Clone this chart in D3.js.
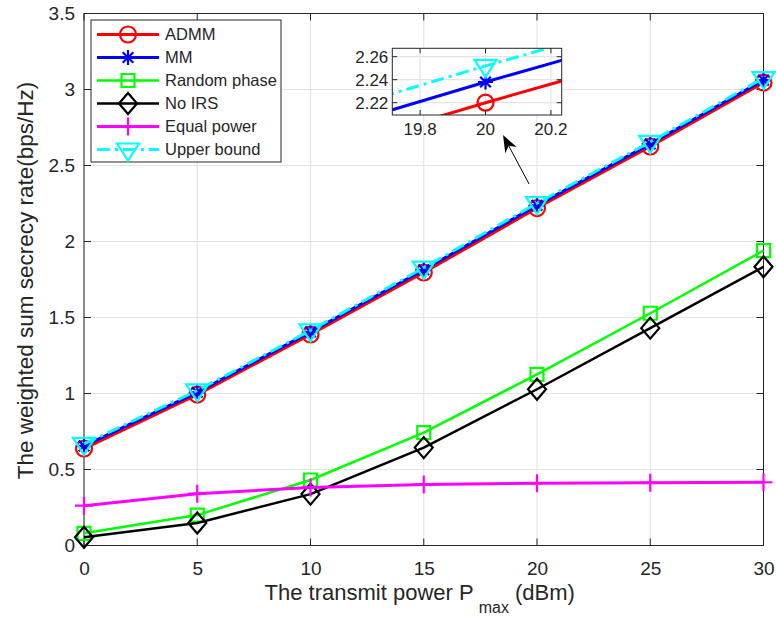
<!DOCTYPE html>
<html>
<head>
<meta charset="utf-8">
<script src="https://cdn.jsdelivr.net/npm/d3@7"></script>
<style>
  html, body { margin: 0; padding: 0; background: #fff; }
  svg { display: block; font-family: "Liberation Sans", Arial, Helvetica, sans-serif; }
</style>
</head>
<body>
<svg id="chart" width="776" height="618"></svg>
<script>
// ---- data ----
const powerDbm = [0, 5, 10, 15, 20, 25, 30];
const admm        = [0.638, 0.993, 1.388, 1.796, 2.220, 2.625, 3.045];
const mm          = [0.655, 1.008, 1.405, 1.814, 2.238, 2.642, 3.062];
const randomPhase = [0.080, 0.200, 0.431, 0.742, 1.126, 1.528, 1.940];
const noIrs       = [0.054, 0.148, 0.338, 0.644, 1.028, 1.430, 1.834];
const equalPower  = [0.262, 0.341, 0.382, 0.401, 0.410, 0.413, 0.416];
const upperBound  = [0.668, 1.020, 1.415, 1.828, 2.252, 2.655, 3.075];

const xTicks = [0, 5, 10, 15, 20, 25, 30];
const yTicks = [0, 0.5, 1, 1.5, 2, 2.5, 3, 3.5];
const insetXTicks = [19.8, 20, 20.2];
const insetYTicks = [2.22, 2.24, 2.26];

const seriesNames = ["ADMM", "MM", "Random phase", "No IRS", "Equal power", "Upper bound"];
const seriesValues = [admm, mm, randomPhase, noIrs, equalPower, upperBound];

// zoom window and annotation arrow, both in data units
const insetXDomain = [19.715, 20.233];
const insetYDomain = [2.2093, 2.2673];
const arrowTail = [19.65, 2.378];
const arrowTip  = [18.50, 2.700];

// ---- styles ----
const styles = [
  { color: "#ff0000", width: 3,   dash: null,          marker: "circle" },
  { color: "#0000ff", width: 3,   dash: null,          marker: "asterisk" },
  { color: "#00ff00", width: 2.5, dash: null,          marker: "square" },
  { color: "#000000", width: 2.5, dash: null,          marker: "diamond" },
  { color: "#ff00ff", width: 3,   dash: null,          marker: "plus" },
  { color: "#00ffff", width: 3,   dash: "13,5,3,5",    marker: "triangleDown" }
];

const textColor = "#262626";
const axisColor = "#262626";
const gridColor = "#e4e4e4";

const svg = d3.select("#chart");
svg.append("rect").attr("width", 776).attr("height", 618).attr("fill", "#fff");
const defs = svg.append("defs");

// main axes area
const main = { left: 84, right: 763.5, top: 13.5, bottom: 545.5 };
const x = d3.scaleLinear().domain([0, 30]).range([main.left, main.right]);
const y = d3.scaleLinear().domain([0, 3.5]).range([main.bottom, main.top]);

// marker path generator, centred on (0,0)
function markerPath(type) {
  const p = d3.path();
  switch (type) {
    case "circle":
      p.moveTo(8, 0); p.arc(0, 0, 8, 0, 2 * Math.PI); break;
    case "square":
      p.rect(-6.5, -6.5, 13, 13); break;
    case "diamond":
      p.moveTo(0, -10.5); p.lineTo(9, 0); p.lineTo(0, 10.5); p.lineTo(-9, 0); p.closePath(); break;
    case "plus":
      p.moveTo(-9, 0); p.lineTo(9, 0); p.moveTo(0, -9); p.lineTo(0, 9); break;
    case "asterisk": {
      const r = 7.5, d = r * Math.SQRT1_2;
      p.moveTo(-r, 0); p.lineTo(r, 0); p.moveTo(0, -r); p.lineTo(0, r);
      p.moveTo(-d, -d); p.lineTo(d, d); p.moveTo(-d, d); p.lineTo(d, -d); break;
    }
    case "triangleDown":
      p.moveTo(-11, -6); p.lineTo(11, -6); p.lineTo(0, 11); p.closePath(); break;
  }
  return p.toString();
}

function drawSeries(g, xs, ys) {
  seriesValues.forEach((vals, i) => {
    const st = styles[i];
    const pts = powerDbm.map((d, j) => [xs(d), ys(vals[j])]);
    g.append("path")
      .attr("d", d3.line()(pts))
      .attr("fill", "none")
      .attr("stroke", st.color)
      .attr("stroke-width", st.width)
      .attr("stroke-linejoin", "round")
      .attr("stroke-dasharray", st.dash);
    g.append("g").selectAll("path")
      .data(pts)
      .join("path")
      .attr("transform", d => `translate(${d[0]},${d[1]})`)
      .attr("d", markerPath(st.marker))
      .attr("fill", "none")
      .attr("stroke", st.color)
      .attr("stroke-width", 2.2);
  });
}

function drawFrame(g, xs, ys, xt, yt, tickLen) {
  const [x0, x1] = xs.range();
  const [y0, y1] = ys.range();
  g.append("rect")
    .attr("x", x0).attr("y", y1).attr("width", x1 - x0).attr("height", y0 - y1)
    .attr("fill", "none").attr("stroke", axisColor).attr("stroke-width", 1);
  xt.forEach(t => {
    const px = xs(t);
    g.append("line").attr("x1", px).attr("x2", px).attr("y1", y0).attr("y2", y0 - tickLen)
      .attr("stroke", axisColor);
    g.append("line").attr("x1", px).attr("x2", px).attr("y1", y1).attr("y2", y1 + tickLen)
      .attr("stroke", axisColor);
  });
  yt.forEach(t => {
    const py = ys(t);
    g.append("line").attr("x1", x0).attr("x2", x0 + tickLen).attr("y1", py).attr("y2", py)
      .attr("stroke", axisColor);
    g.append("line").attr("x1", x1).attr("x2", x1 - tickLen).attr("y1", py).attr("y2", py)
      .attr("stroke", axisColor);
  });
}

function drawGrid(g, xs, ys, xt, yt) {
  const [x0, x1] = xs.range();
  const [y0, y1] = ys.range();
  g.selectAll("line.gx").data(xt).join("line").attr("class", "gx")
    .attr("x1", d => xs(d)).attr("x2", d => xs(d)).attr("y1", y0).attr("y2", y1)
    .attr("stroke", gridColor).attr("stroke-width", 1.2);
  g.selectAll("line.gy").data(yt).join("line").attr("class", "gy")
    .attr("x1", x0).attr("x2", x1).attr("y1", d => ys(d)).attr("y2", d => ys(d))
    .attr("stroke", gridColor).attr("stroke-width", 1.2);
}

// ---- main plot ----
const gMain = svg.append("g");
drawGrid(gMain, x, y, xTicks, yTicks);
drawFrame(gMain, x, y, xTicks, yTicks, 7);

// tick labels
const xAxis = d3.axisBottom(x).tickValues(xTicks).tickSize(0).tickPadding(0).tickFormat(d3.format("d"));
const gx = svg.append("g").attr("transform", `translate(0,${main.bottom + 16})`).call(xAxis);
gx.select(".domain").remove();
gx.selectAll("text").attr("dy", "0.71em").attr("font-size", 19).attr("fill", textColor)
  .attr("font-family", "Liberation Sans, Arial, sans-serif");

const yAxis = d3.axisLeft(y).tickValues(yTicks).tickSize(0).tickPadding(0).tickFormat(d => String(d));
const gy = svg.append("g").attr("transform", `translate(${main.left - 9},0)`).call(yAxis);
gy.select(".domain").remove();
gy.selectAll("text").attr("font-size", 19).attr("fill", textColor)
  .attr("font-family", "Liberation Sans, Arial, sans-serif");

// data
drawSeries(svg.append("g"), x, y);

// axis titles
const xLabel = svg.append("text")
  .attr("x", (main.left + main.right) / 2 - 4)
  .attr("y", 600)
  .attr("text-anchor", "middle")
  .attr("font-size", 22)
  .attr("fill", textColor);
xLabel.append("tspan").text("The transmit power P");
xLabel.append("tspan").attr("dx", 5).attr("dy", 13).attr("font-size", 16).text("max");
xLabel.append("tspan").attr("dy", -13).text("\u00a0(dBm)");

svg.append("text")
  .attr("transform", `translate(33,${(main.top + main.bottom) / 2 + 1}) rotate(-90)`)
  .attr("text-anchor", "middle")
  .attr("font-size", 22.5)
  .attr("fill", textColor)
  .text("The weighted sum secrecy rate(bps/Hz)");

// ---- legend ----
const leg = { x: 91, y: 20, w: 190, h: 142, row0: 34.5, step: 23 };
const gLeg = svg.append("g");
gLeg.append("rect").attr("x", leg.x).attr("y", leg.y).attr("width", leg.w).attr("height", leg.h)
  .attr("fill", "#fff").attr("stroke", axisColor).attr("stroke-width", 1);
seriesNames.forEach((name, i) => {
  const st = styles[i];
  const cy = leg.row0 + i * leg.step;
  gLeg.append("line").attr("x1", 97).attr("x2", 159).attr("y1", cy).attr("y2", cy)
    .attr("stroke", st.color).attr("stroke-width", st.width).attr("stroke-dasharray", st.dash);
  gLeg.append("path").attr("transform", `translate(128,${cy})`).attr("d", markerPath(st.marker))
    .attr("fill", "none").attr("stroke", st.color).attr("stroke-width", 2.2);
  gLeg.append("text").attr("x", 165).attr("y", cy).attr("dy", "0.35em")
    .attr("font-size", 16.5).attr("fill", textColor).text(name);
});

// ---- zoomed inset ----
const ins = { left: 392.3, right: 561.7, top: 48.3, bottom: 115 };
const xi = d3.scaleLinear().domain(insetXDomain).range([ins.left, ins.right]);
const yi = d3.scaleLinear().domain(insetYDomain).range([ins.bottom, ins.top]);
const gIns = svg.append("g");
gIns.append("rect").attr("x", ins.left).attr("y", ins.top)
  .attr("width", ins.right - ins.left).attr("height", ins.bottom - ins.top).attr("fill", "#fff");
drawGrid(gIns, xi, yi, insetXTicks, insetYTicks);
defs.append("clipPath").attr("id", "insClip")
  .append("rect").attr("x", ins.left).attr("y", ins.top)
  .attr("width", ins.right - ins.left).attr("height", ins.bottom - ins.top);
// lines are clipped to the window; only markers inside it are drawn
const gInsData = gIns.append("g");
seriesValues.forEach((vals, i) => {
  const st = styles[i];
  const pts = powerDbm.map((d, j) => [xi(d), yi(vals[j])]);
  gInsData.append("path").attr("clip-path", "url(#insClip)")
    .attr("d", d3.line()(pts)).attr("fill", "none")
    .attr("stroke", st.color).attr("stroke-width", st.width)
    .attr("stroke-dasharray", st.dash);
  const inView = pts.filter((p, j) =>
    powerDbm[j] >= insetXDomain[0] && powerDbm[j] <= insetXDomain[1] &&
    vals[j] >= insetYDomain[0] && vals[j] <= insetYDomain[1]);
  gInsData.selectAll(null).data(inView).join("path")
    .attr("transform", d => `translate(${d[0]},${d[1]})`)
    .attr("d", markerPath(st.marker)).attr("fill", "none")
    .attr("stroke", st.color).attr("stroke-width", 2.2);
});
drawFrame(gIns, xi, yi, insetXTicks, insetYTicks, 5);
gIns.selectAll("text.ixt").data(insetXTicks).join("text").attr("class", "ixt")
  .attr("x", d => xi(d)).attr("y", ins.bottom + 20)
  .attr("text-anchor", "middle").attr("font-size", 17).attr("fill", textColor)
  .text(d => d3.format(".1f")(d).replace(/\.0$/, ""));
gIns.selectAll("text.iyt").data(insetYTicks).join("text").attr("class", "iyt")
  .attr("x", ins.left - 4).attr("y", d => yi(d)).attr("dy", "0.35em")
  .attr("text-anchor", "end").attr("font-size", 17).attr("fill", textColor)
  .text(d => d3.format(".2f")(d));

// ---- arrow pointing at the zoomed region ----
(function drawArrow() {
  const t = [x(arrowTail[0]), y(arrowTail[1])];
  const h = [x(arrowTip[0]), y(arrowTip[1])];
  const dx = h[0] - t[0], dy = h[1] - t[1];
  const len = Math.hypot(dx, dy);
  const ux = dx / len, uy = dy / len, nx = -uy, ny = ux;
  const headLen = 17, headHalf = 6.5, notch = 12;
  const base = [h[0] - ux * headLen, h[1] - uy * headLen];
  const back = [h[0] - ux * notch, h[1] - uy * notch];
  svg.append("line").attr("x1", t[0]).attr("y1", t[1]).attr("x2", back[0]).attr("y2", back[1])
    .attr("stroke", "#000").attr("stroke-width", 1);
  const p = d3.path();
  p.moveTo(h[0], h[1]);
  p.lineTo(base[0] + nx * headHalf, base[1] + ny * headHalf);
  p.lineTo(back[0], back[1]);
  p.lineTo(base[0] - nx * headHalf, base[1] - ny * headHalf);
  p.closePath();
  svg.append("path").attr("d", p.toString()).attr("fill", "#000");
})();
</script>
</body>
</html>
